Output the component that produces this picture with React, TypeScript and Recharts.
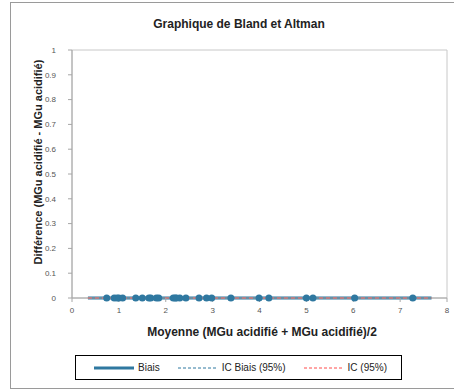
import {
  ComposedChart, Line, Scatter, XAxis, YAxis, ReferenceArea,
} from 'recharts'

// ── Data ───────────────────────────────────────────────────────

const MEANS = [
  0.74, 0.9, 0.96, 1.0, 1.08, 1.36, 1.5, 1.64, 1.68, 1.8, 1.85,
  2.16, 2.2, 2.23, 2.3, 2.43, 2.71, 2.87, 2.98, 3.39, 3.99, 4.2,
  5.0, 5.14, 6.03, 7.27,
]
const DIFFS = MEANS.map(() => 0)

const LINE_X = [0.34, 7.67]
const BIAS = [0, 0]
const IC_BIAS = [0, 0]
const IC = [0, 0]

const X_TICKS = [0, 1, 2, 3, 4, 5, 6, 7, 8]
const Y_TICKS = [0, 0.1, 0.2, 0.3, 0.4, 0.5, 0.6, 0.7, 0.8, 0.9, 1]

const points = MEANS.map((x, i) => ({ x, y: DIFFS[i] }))
const toLine = (ys: number[]) => LINE_X.map((x, i) => ({ x, y: ys[i] }))

// ── Colors ─────────────────────────────────────────────────────

const BLUE = '#2f78a0'
const RED = '#ff4b4b'
const AXIS = '#a6a6a6'
const TICK = '#555'

const font = '"Liberation Sans", Arial, sans-serif'

function LegendItem({ color, dashed, thick, label }: { color: string; dashed?: boolean; thick?: boolean; label: string }) {
  return (
    <div style={{ display: 'flex', alignItems: 'center', gap: 4 }}>
      <svg width={40} height={6}>
        <line x1={0} y1={3} x2={40} y2={3} stroke={color} strokeWidth={thick ? 3 : 1}
          strokeDasharray={dashed ? '3 2' : undefined} />
      </svg>
      <span>{label}</span>
    </div>
  )
}

export default function App() {
  return (
    <div style={{ position: 'absolute', left: 0, top: 0, width: 454, height: 390, overflow: 'hidden', background: '#fff', fontFamily: font }}>
      {/* outer frame */}
      <div style={{ position: 'absolute', left: 10, top: 2, width: 470, height: 385, border: '1.5px solid #9a9a9a' }} />

      <div style={{ position: 'absolute', left: 0, top: 17, width: 478, textAlign: 'center', fontSize: 12, fontWeight: 'bold', color: '#222' }}>
        Graphique de Bland et Altman
      </div>

      <div style={{ position: 'absolute', left: 38, top: 163, width: 0, height: 0 }}>
        <div style={{ position: 'absolute', left: -150, top: -7, width: 300, textAlign: 'center', fontSize: 11, fontWeight: 'bold', color: '#222', transform: 'rotate(-90deg)', whiteSpace: 'nowrap' }}>
          Différence (MGu acidifié - MGu acidifié)
        </div>
      </div>

      <div style={{ position: 'absolute', left: 62, top: 325, width: 400, textAlign: 'center', fontSize: 12, fontWeight: 'bold', color: '#222' }}>
        Moyenne (MGu acidifié + MGu acidifié)/2
      </div>

      <div style={{ position: 'absolute', left: 0, top: 0 }}>
        <ComposedChart width={454} height={390} margin={{ top: 50, right: 7, bottom: 72, left: 0 }}>
          <XAxis type="number" dataKey="x" domain={[0, 8]} ticks={X_TICKS} height={20}
            axisLine={{ stroke: AXIS }} tickLine={{ stroke: AXIS }} tickSize={4} tickMargin={5}
            tick={{ fontSize: 8, fill: TICK, fontFamily: font }} />
          <YAxis type="number" dataKey="y" domain={[0, 1]} ticks={Y_TICKS} width={72}
            axisLine={{ stroke: AXIS }} tickLine={{ stroke: AXIS }} tickSize={4} tickMargin={12}
            tick={{ fontSize: 8, fill: TICK, fontFamily: font }} />
          <ReferenceArea x1={0} x2={8} y1={0} y2={1} fill="none" stroke="#c8c8c8" strokeWidth={1} />
          <Line data={toLine(BIAS)} dataKey="y" stroke={BLUE} strokeWidth={3} dot={false} isAnimationActive={false} />
          <Line data={toLine(IC_BIAS)} dataKey="y" stroke={BLUE} strokeWidth={1} strokeDasharray="3 2" dot={false} isAnimationActive={false} />
          <Line data={toLine(IC)} dataKey="y" stroke={RED} strokeWidth={1.5} strokeDasharray="4 3" dot={false} isAnimationActive={false} />
          <Scatter data={points} dataKey="y" isAnimationActive={false}
            shape={(p: any) => <circle cx={p.cx} cy={p.cy} r={3.5} fill={BLUE} />} />
        </ComposedChart>
      </div>

      {/* legend */}
      <div style={{ position: 'absolute', left: 75, top: 355, width: 327, height: 25, border: '1px solid #000', boxSizing: 'border-box', display: 'flex', alignItems: 'center', gap: 18, paddingLeft: 18, fontSize: 10, color: '#222' }}>
        <LegendItem color={BLUE} thick label="Biais" />
        <LegendItem color={BLUE} dashed label="IC Biais (95%)" />
        <LegendItem color={RED} dashed label="IC (95%)" />
      </div>
    </div>
  )
}
